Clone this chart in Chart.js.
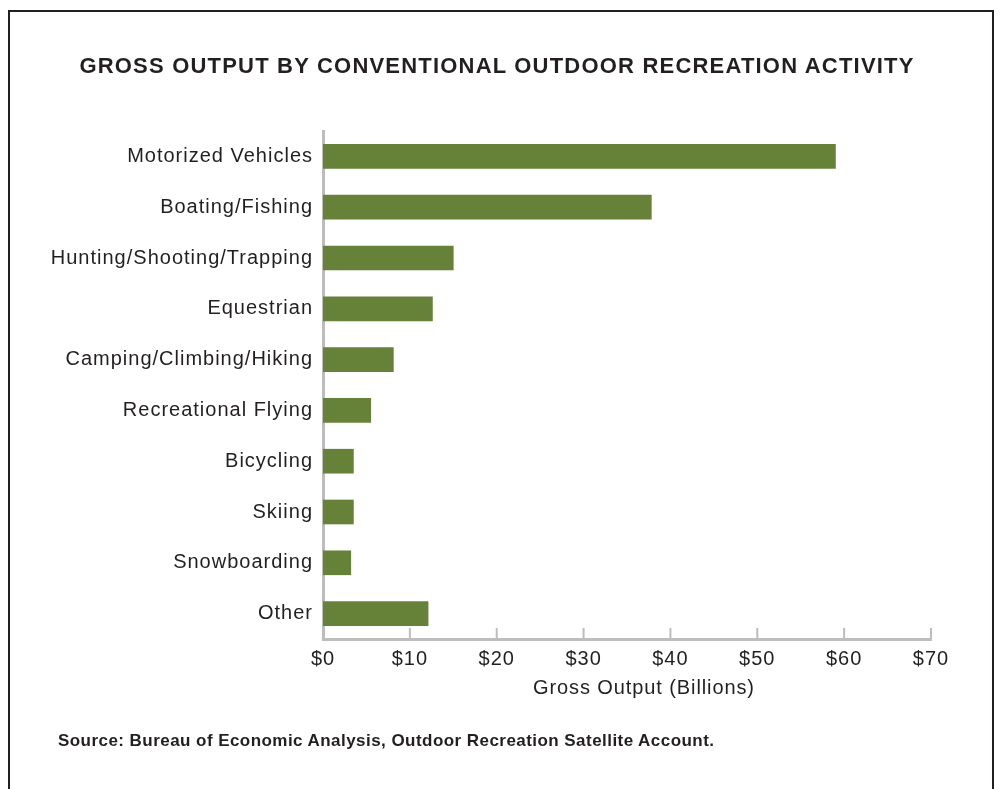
<!DOCTYPE html>
<html lang="en">
<head>
    <meta charset="UTF-8">
    <title>Gross Output by Conventional Outdoor Recreation Activity</title>
    <script src="https://cdn.jsdelivr.net/npm/chart.js"></script>
    <style>
        body {
            margin: 0;
            background: #ffffff;
            font-family: 'Liberation Sans', Arial, sans-serif;
            color: #231f20;
        }
        .frame {
            position: absolute;
            left: 8px;
            top: 10px;
            width: 982px;
            height: 800px;
            border: 2px solid #231f20;
            border-bottom: none;
        }
        .chart-wrap {
            position: absolute;
            left: 0;
            top: 0;
            width: 994px;
            height: 789px;
        }
        .title {
            position: absolute;
            left: 0;
            width: 994px;
            top: 53px;
            text-align: center;
            font-weight: bold;
            font-size: 22px;
            letter-spacing: 1.2px;
        }
        .axis-title {
            position: absolute;
            left: 514px;
            width: 260px;
            top: 676px;
            text-align: center;
            font-size: 20px;
            letter-spacing: 0.9px;
        }
        .source {
            position: absolute;
            left: 58px;
            top: 731px;
            font-size: 17px;
            font-weight: bold;
            letter-spacing: 0.45px;
        }
    </style>
</head>
<body>
    <div class="frame"></div>
    <div class="chart-wrap">
        <canvas id="outputChart" width="994" height="789"></canvas>
    </div>
    <div class="title">GROSS OUTPUT BY CONVENTIONAL OUTDOOR RECREATION ACTIVITY</div>
    <div class="axis-title">Gross Output (Billions)</div>
    <div class="source">Source: Bureau of Economic Analysis, Outdoor Recreation Satellite Account.</div>

    <script>
        // Data (billions of dollars)
        const activities = ['Motorized Vehicles', 'Boating/Fishing', 'Hunting/Shooting/Trapping', 'Equestrian',
            'Camping/Climbing/Hiking', 'Recreational Flying', 'Bicycling', 'Skiing', 'Snowboarding', 'Other'];
        const grossOutput = [59.0, 37.8, 15.0, 12.6, 8.1, 5.5, 3.5, 3.5, 3.2, 12.1];
        const xTicks = [0, 10, 20, 30, 40, 50, 60, 70];

        const axisGrey = '#bdbdbd';

        // wider text spacing, closer to the original typeface
        const spacing = {
            id: 'spacing',
            beforeUpdate(chart) { chart.ctx.letterSpacing = '1px'; },
            beforeDraw(chart) { chart.ctx.letterSpacing = '1px'; }
        };

        // small tick marks pointing up from the x axis
        const upTicks = {
            id: 'upTicks',
            afterDraw(chart) {
                const ctx = chart.ctx;
                const x = chart.scales.x;
                const y0 = chart.chartArea.bottom;
                ctx.save();
                ctx.strokeStyle = axisGrey;
                ctx.lineWidth = 2;
                xTicks.forEach(v => {
                    const px = x.getPixelForValue(v);
                    ctx.beginPath();
                    ctx.moveTo(px, y0);
                    ctx.lineTo(px, y0 - 11);
                    ctx.stroke();
                });
                ctx.restore();
            }
        };

        const ctx = document.getElementById('outputChart').getContext('2d');
        new Chart(ctx, {
            type: 'bar',
            data: {
                labels: activities,
                datasets: [{
                    label: 'Gross Output',
                    data: grossOutput,
                    backgroundColor: '#658238',
                    barThickness: 24
                }]
            },
            options: {
                indexAxis: 'y',
                responsive: false,
                animation: false,
                layout: {
                    padding: { top: 131, right: 63, bottom: 110, left: 0 }
                },
                plugins: {
                    legend: { display: false },
                    tooltip: { enabled: false }
                },
                scales: {
                    x: {
                        min: 0,
                        max: 70,
                        afterBuildTicks: scale => {
                            scale.ticks = xTicks.map(v => ({ value: v }));
                        },
                        grid: { display: false, drawTicks: false },
                        border: { display: true, color: axisGrey, width: 3 },
                        ticks: {
                            padding: 8,
                            color: '#231f20',
                            font: { family: 'Liberation Sans', size: 20 },
                            callback: v => '$' + v
                        }
                    },
                    y: {
                        afterFit: scale => { scale.width = 323; },
                        grid: { display: false, drawTicks: false },
                        border: { display: true, color: axisGrey, width: 3 },
                        ticks: {
                            padding: 10,
                            color: '#231f20',
                            font: { family: 'Liberation Sans', size: 20 }
                        }
                    }
                }
            },
            plugins: [spacing, upTicks]
        });
    </script>
</body>
</html>
